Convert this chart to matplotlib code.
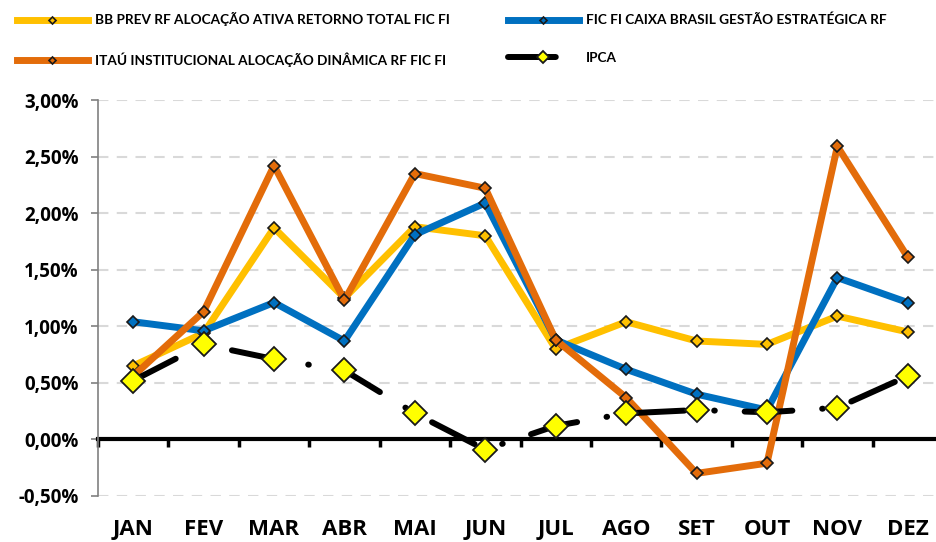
import matplotlib
matplotlib.use("Agg")
import matplotlib.pyplot as plt
import matplotlib.transforms as mtransforms
from matplotlib.ticker import FuncFormatter

plt.rcParams['font.family'] = ['Lato', 'DejaVu Sans']
plt.rcParams['font.weight'] = 'bold'

months = ["JAN", "FEV", "MAR", "ABR", "MAI", "JUN", "JUL", "AGO", "SET", "OUT", "NOV", "DEZ"]

bb_prev = [0.65, 0.94, 1.87, 1.25, 1.88, 1.80, 0.80, 1.04, 0.87, 0.84, 1.09, 0.95]
caixa = [1.04, 0.96, 1.21, 0.87, 1.81, 2.09, 0.88, 0.62, 0.40, 0.26, 1.43, 1.21]
itau = [0.56, 1.13, 2.42, 1.23, 2.35, 2.22, 0.88, 0.37, -0.30, -0.21, 2.59, 1.61]
ipca = [0.52, 0.84, 0.71, 0.61, 0.23, -0.09, 0.12, 0.23, 0.26, 0.24, 0.28, 0.56]

labels = ["BB PREV RF ALOCAÇÃO ATIVA RETORNO TOTAL FIC FI",
          "FIC FI CAIXA BRASIL GESTÃO ESTRATÉGICA RF",
          "ITAÚ INSTITUCIONAL ALOCAÇÃO DINÂMICA RF FIC FI",
          "IPCA"]

tick_font = ['Open Sans', 'DejaVu Sans']

fig = plt.figure(figsize=(9.37, 5.42), dpi=100)
ax = fig.add_axes([98 / 937, 1 - 496 / 542, 845 / 937, 396 / 542])

x = list(range(len(months)))

l_bb, = ax.plot(x, bb_prev, color="#FFC000", lw=5, marker="D", ms=6.5,
                mfc="#FFC000", mec="#1a1a1a", mew=1.2, zorder=3, label=labels[0])
l_cx, = ax.plot(x, caixa, color="#0070C0", lw=5, marker="D", ms=6.5,
                mfc="#0070C0", mec="#1a1a1a", mew=1.2, zorder=3, label=labels[1])
l_it, = ax.plot(x, itau, color="#E36C0A", lw=5, marker="D", ms=6.5,
                mfc="#E36C0A", mec="#1a1a1a", mew=1.2, zorder=3, label=labels[2])
l_ip, = ax.plot(x, ipca, color="black", lw=4.3, ls=(0, (8, 5, 0.1, 5)),
                dash_capstyle="round", marker="D", ms=12, mfc="#FFFF00",
                mec="#1a1a1a", mew=1.3, zorder=4, label=labels[3])

ax.set_xlim(-0.5, 11.5)
ax.set_ylim(-0.5, 3.0)
ax.set_yticks([-0.5, 0, 0.5, 1.0, 1.5, 2.0, 2.5, 3.0])
ax.yaxis.set_major_formatter(FuncFormatter(lambda v, p: f"{v:.2f}%".replace(".", ",")))
ax.tick_params(axis="y", length=5, width=1.2, color="#808080", pad=9)
for t in ax.get_yticklabels():
    t.set_fontfamily(tick_font)
    t.set_fontsize(13.5)
    t.set_fontweight("bold")
ax.grid(axis="y", color="#d9d9d9", lw=1.5, ls=(0, (5, 4)), zorder=0)

for s in ["top", "right"]:
    ax.spines[s].set_visible(False)
ax.spines["left"].set_color("#808080")
ax.spines["left"].set_linewidth(1.2)
ax.spines["bottom"].set_position(("data", 0))
ax.spines["bottom"].set_linewidth(3)
ax.spines["bottom"].set_color("black")
ax.spines["bottom"].set_zorder(2)

ax.set_xticks([i + 0.5 for i in x[:-1]] + [-0.5])
ax.set_xticklabels([])
ax.tick_params(axis="x", length=6, width=2.5, color="black", direction="out")

trans = mtransforms.blended_transform_factory(ax.transData, ax.transAxes)
for i, m in enumerate(months):
    ax.text(i, -0.085, m, transform=trans, ha="center", va="center",
            fontsize=16, fontweight="bold", family=tick_font)

handles = [l_bb, l_it, l_cx, l_ip]
fig.legend(handles, [h.get_label() for h in handles], ncol=2, loc="upper left",
           bbox_to_anchor=(0.005, 1.0), frameon=False, fontsize=9.8,
           handlelength=5.2, labelspacing=1.9, columnspacing=4.3,
           handletextpad=0.5, markerscale=0.55)

fig.savefig("out.png", dpi=100)
